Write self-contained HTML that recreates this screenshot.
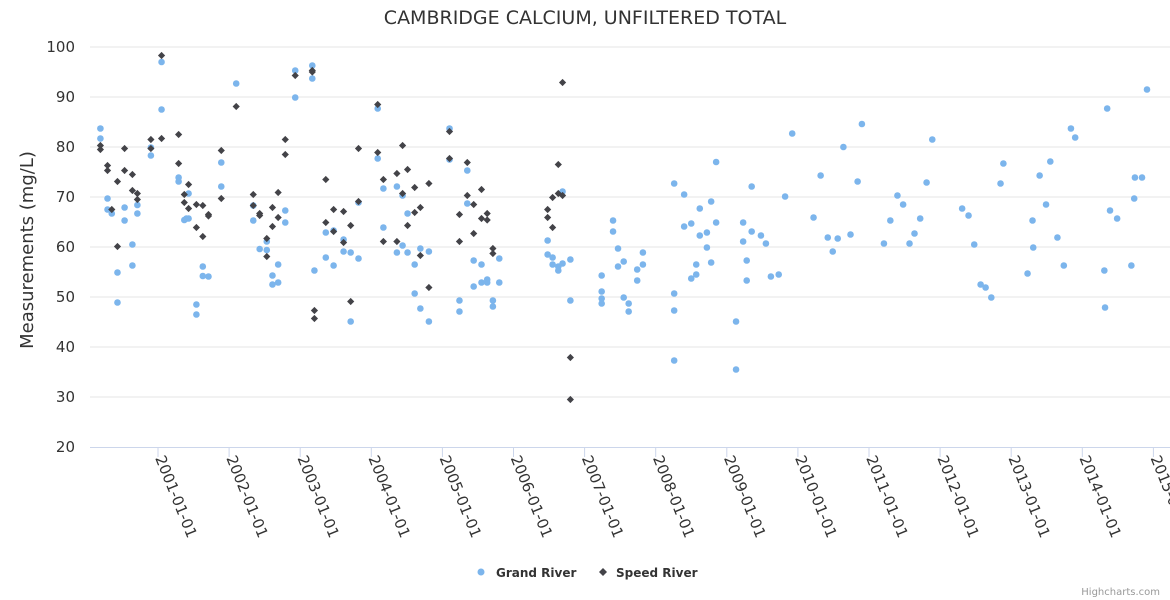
<!DOCTYPE html>
<html><head><meta charset="utf-8"><style>
html,body{margin:0;padding:0;background:#fff;width:1170px;height:600px;overflow:hidden}
svg{display:block;font-family:"DejaVu Sans","Liberation Sans",sans-serif}
</style></head><body>
<svg id="chart" width="1170" height="600" viewBox="0 0 1170 600">
<rect width="1170" height="600" fill="#fff"/>
<text x="585" y="24" text-anchor="middle" font-size="19" fill="#333">CAMBRIDGE CALCIUM, UNFILTERED TOTAL</text>
<text transform="translate(33,250) rotate(-90)" text-anchor="middle" font-size="18" fill="#333">Measurements (mg/L)</text>
<g id="grid"></g><g id="xaxis"></g><g id="yaxis"></g><g id="series"></g>
<g>
<g>
<circle cx="481" cy="572" r="3.5" fill="#7cb5ec"/>
<text x="496" y="577" font-size="12" font-weight="bold" fill="#333">Grand River</text></g>
<g>
<path d="M603 568 L607 572 L603 576 L599 572 Z" fill="#434348"/>
<text x="616" y="577" font-size="12" font-weight="bold" fill="#333">Speed River</text></g>
</g>
<text x="1160" y="595" text-anchor="end" font-size="10" fill="#999">Highcharts.com</text>
</svg>
<script>
const yTicks=[20,30,40,50,60,70,80,90,100];
const xTickYears=[2001,2002,2003,2004,2005,2006,2007,2008,2009,2010,2011,2012,2013,2014,2015];
const grandDates=[2000.19,2000.19,2000.29,2000.29,2000.35,2000.43,2000.43,2000.53,2000.53,2000.64,2000.64,2000.71,2000.71,2000.90,2000.90,2001.05,2001.05,2001.29,2001.29,2001.37,2001.43,2001.40,2001.43,2001.54,2001.54,2001.63,2001.63,2001.71,2001.89,2001.89,2002.10,2002.34,2002.34,2002.43,2002.53,2002.53,2002.61,2002.61,2002.69,2002.69,2002.79,2002.79,2002.93,2002.93,2003.17,2003.17,2003.20,2003.36,2003.36,2003.47,2003.47,2003.61,2003.61,2003.71,2003.71,2003.82,2003.82,
2004.09,2004.09,2004.17,2004.17,2004.36,2004.36,2004.44,2004.44,2004.51,2004.51,2004.61,2004.61,2004.69,2004.69,2004.81,2004.81,2005.10,2005.10,2005.24,2005.24,2005.35,2005.35,2005.44,2005.44,2005.55,2005.55,2005.63,2005.63,2005.71,2005.71,2005.80,2005.80,2006.48,2006.48,2006.55,2006.55,2006.63,2006.63,2006.69,2006.69,2006.80,2006.80,2007.24,2007.24,2007.24,2007.24,
2007.40,2007.40,2007.47,2007.47,2007.55,2007.55,2007.62,2007.62,2007.74,2007.74,2007.82,2007.82,2008.26,2008.26,2008.26,2008.26,2008.40,2008.40,2008.50,2008.50,2008.57,2008.57,2008.62,2008.62,2008.72,2008.72,2008.78,2008.78,2008.85,2008.85,2009.13,2009.13,2009.23,2009.23,2009.28,2009.28,2009.35,2009.35,2009.48,2009.55,2009.62,2009.73,2009.82,2009.92,2010.22,2010.32,2010.42,2010.49,2010.56,2010.64,2010.74,2010.84,2010.90,
2011.21,2011.30,2011.40,2011.48,2011.57,2011.64,2011.72,2011.81,2011.89,2012.31,2012.40,2012.48,2012.57,2012.64,2012.72,2012.85,2012.89,2013.23,2013.30,2013.31,2013.40,2013.49,2013.55,2013.65,2013.74,2013.84,2013.90,2014.31,2014.32,2014.35,2014.39,2014.49,2014.69,2014.73,2014.74,2014.84,2014.91];
const grandValues=[83.7,81.7,69.7,67.5,66.7,54.9,48.9,67.9,65.3,60.5,56.3,68.4,66.7,79.9,78.3,97.0,87.5,73.9,73.1,65.4,70.7,65.7,65.7,48.5,46.5,56.1,54.2,54.1,76.9,72.1,92.7,68.3,65.3,59.6,61.1,59.4,54.3,52.5,56.5,52.9,67.3,64.9,95.3,89.9,96.3,93.7,55.3,62.9,57.9,63.3,56.3,61.5,59.1,58.9,45.1,57.7,68.9,
87.7,77.7,71.7,63.9,72.1,58.9,70.3,60.3,66.7,58.9,56.5,50.7,59.7,47.7,59.1,45.1,83.7,77.5,49.3,47.1,75.3,68.7,57.3,52.1,56.5,52.9,53.5,52.9,49.3,48.1,57.7,52.9,61.3,58.5,57.9,56.5,56.1,55.3,56.7,71.1,57.5,49.3,54.3,51.1,49.7,48.7,
65.3,63.1,59.7,56.1,57.1,49.9,48.7,47.1,55.5,53.3,58.9,56.5,72.7,50.7,47.3,37.3,70.5,64.1,64.7,53.7,56.5,54.5,67.7,62.3,62.9,59.9,69.1,56.9,64.9,77.0,45.1,35.5,64.9,61.1,57.3,53.3,72.1,63.1,62.3,60.7,54.1,54.5,70.1,82.7,65.9,74.3,61.9,59.1,61.7,80.0,62.5,73.1,84.6,
60.7,65.3,70.3,68.5,60.7,62.7,65.7,72.9,81.5,67.7,66.3,60.5,52.5,51.9,49.9,72.7,76.7,54.7,65.3,59.9,74.3,68.5,77.1,61.9,56.3,83.7,81.9,55.3,47.9,87.7,67.3,65.7,56.3,69.7,73.9,73.9,91.5];
const speedDates=[2000.19,2000.19,2000.29,2000.29,2000.35,2000.43,2000.43,2000.53,2000.53,2000.64,2000.64,2000.71,2000.71,2000.90,2000.90,2001.05,2001.05,2001.29,2001.29,2001.43,2001.37,2001.37,2001.43,2001.54,2001.54,2001.63,2001.63,2001.71,2001.71,2001.89,2001.89,2002.10,2002.34,2002.34,2002.43,2002.43,2002.53,2002.53,2002.61,2002.61,2002.69,2002.69,2002.79,2002.79,2002.93,2003.17,2003.17,2003.20,2003.20,2003.36,2003.36,2003.47,2003.47,2003.61,2003.61,2003.71,2003.71,2003.82,2003.82,
2004.09,2004.09,2004.17,2004.17,2004.36,2004.36,2004.44,2004.44,2004.51,2004.51,2004.61,2004.61,2004.69,2004.69,2004.81,2004.81,2005.10,2005.10,2005.24,2005.24,2005.35,2005.35,2005.44,2005.44,2005.55,2005.55,2005.63,2005.63,2005.71,2005.71,2006.48,2006.48,2006.55,2006.55,2006.63,2006.63,2006.69,2006.69,2006.80,2006.80];
const speedValues=[80.3,79.5,76.3,75.3,67.5,73.1,60.1,79.7,75.3,74.5,71.3,70.7,69.5,81.5,79.7,98.3,81.7,82.5,76.7,72.5,70.5,68.9,67.7,68.5,63.9,68.3,62.1,66.5,66.2,79.3,69.7,88.1,70.5,68.3,66.7,66.3,61.7,58.1,67.9,64.1,70.9,65.9,81.5,78.5,94.3,95.3,95.0,47.3,45.7,73.5,64.9,67.5,63.1,67.1,60.9,64.3,49.1,79.7,69.1,
88.5,78.9,73.5,61.1,74.7,61.1,80.3,70.7,75.5,64.3,71.9,66.9,67.9,58.3,72.7,51.9,83.1,77.7,66.5,61.1,76.9,70.3,68.5,62.7,71.5,65.7,66.7,65.4,59.7,58.7,67.5,65.9,69.9,63.9,76.5,70.7,92.9,70.3,37.9,29.5];

const NS='http://www.w3.org/2000/svg';
const X0=90,X1=1170,Y0=47,Y1=447;
function xs(yr){return 158+(yr-2001)*71.1;}
function ys(v){return Y1-(v-20)*(Y1-Y0)/80;}
function mk(tag,attrs,parent){const e=document.createElementNS(NS,tag);for(const k in attrs)e.setAttribute(k,attrs[k]);parent.appendChild(e);return e;}
const grid=document.getElementById('grid'),ya=document.getElementById('yaxis'),xa=document.getElementById('xaxis'),ser=document.getElementById('series');
yTicks.forEach(v=>{
  if(v>20){const l=mk('line',{x1:X0,x2:X1,y1:ys(v),y2:ys(v),stroke:'#e6e6e6','stroke-width':1},grid);
  
  }
  const t=mk('text',{x:75,y:ys(v)+5,'text-anchor':'end','font-size':15,fill:'#333'},ya);
  t.textContent=v;
  
  
});
const axl=mk('line',{x1:X0,x2:X1,y1:Y1+0.5,y2:Y1+0.5,stroke:'#ccd6eb','stroke-width':1},xa);


xTickYears.forEach(y=>{
  const x=xs(y);
  const tk=mk('line',{x1:x,x2:x,y1:Y1,y2:Y1+10,stroke:'#ccd6eb','stroke-width':1},xa);
  
  
  const t=mk('text',{transform:'translate('+(x-3)+','+(Y1+11)+') rotate(68)','font-size':15,fill:'#333'},xa);
  t.textContent=y+'-01-01';
  
  
});
grandDates.forEach((d,i)=>{
  const c=mk('circle',{cx:xs(d),cy:ys(grandValues[i]),r:3.3,fill:'#7cb5ec'},ser);
  
  
});
speedDates.forEach((d,i)=>{
  const x=xs(d),y=ys(speedValues[i]);
  const p=mk('path',{d:'M'+x+' '+(y-3.6)+' L'+(x+3.6)+' '+y+' L'+x+' '+(y+3.6)+' L'+(x-3.6)+' '+y+' Z',fill:'#434348'},ser);
  
  
});
</script>
</body></html>
